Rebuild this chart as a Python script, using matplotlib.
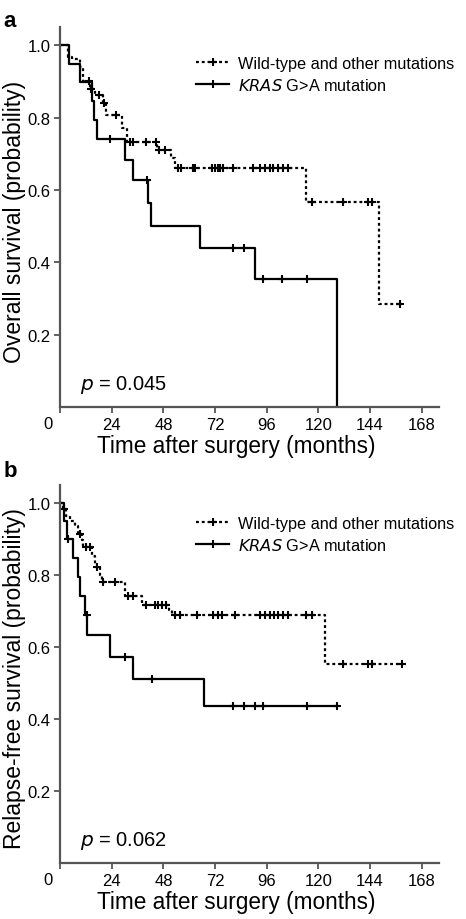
import numpy as np
import matplotlib
matplotlib.use("Agg")
import matplotlib.pyplot as plt
from matplotlib.lines import Line2D

plt.rcParams['font.family'] = ['Liberation Sans', 'DejaVu Sans']

# ---------------------------------------------------------------------------
# Data (months, survival probability)
# panel a: overall survival
os_wt_t = [0, 3.9, 5.7, 9.3, 10.8, 13.9, 16.3, 20.1, 21.2, 28.6, 31.0, 45.2, 51.6, 53.4, 114.3, 148.2]
os_wt_s = [1.0, 0.968, 0.963, 0.940, 0.900, 0.880, 0.862, 0.841, 0.806, 0.770, 0.731, 0.710, 0.687, 0.661, 0.567, 0.284]
os_wt_cens = [13.5, 14.2, 18.3, 20.6, 26.0, 32.5, 34.1, 39.9, 44.6, 46.1, 48.8, 54.9, 56.4,
              61.8, 62.6, 70.5, 72.0, 73.5, 74.3, 75.9, 80.5, 89.8, 92.9, 95.2, 97.5, 99.1,
              101.4, 103.7, 106.0, 117.2, 131.3, 143.2, 144.8, 157.9]

os_kras_t = [0, 4.3, 9.3, 14.7, 15.9, 17.3, 30.2, 33.8, 41.0, 42.3, 65.0, 90.6, 128.8]
os_kras_s = [1.0, 0.949, 0.899, 0.845, 0.793, 0.740, 0.684, 0.627, 0.565, 0.501, 0.440, 0.353, 0.0]
os_kras_cens = [23.2, 40.6, 80.2, 85.6, 94.1, 103.3, 114.9]

# panel b: relapse-free survival
rfs_wt_t = [0, 1.3, 2.8, 4.6, 7.0, 8.5, 10.1, 10.8, 14.7, 16.3, 18.6, 19.4, 30.2, 37.9, 50.8, 51.9, 123.1]
rfs_wt_s = [1.0, 0.984, 0.963, 0.949, 0.935, 0.915, 0.898, 0.878, 0.852, 0.821, 0.801, 0.780, 0.741, 0.716, 0.702, 0.688, 0.552]
rfs_wt_cens = [2.0, 9.3, 11.9, 13.9, 17.0, 20.1, 25.5, 31.7, 34.1, 39.9, 44.1, 45.7, 47.2, 49.2,
               53.4, 55.7, 63.8, 71.2, 73.5, 75.1, 81.3, 92.9, 95.2, 97.5, 99.4, 101.4, 103.7,
               106.0, 114.3, 116.9, 131.3, 143.2, 144.8, 158.7]

rfs_kras_t = [0, 1.9, 3.1, 5.9, 8.5, 9.3, 11.6, 12.7, 23.2, 33.8, 66.9]
rfs_kras_s = [1.0, 0.949, 0.900, 0.848, 0.795, 0.741, 0.688, 0.632, 0.573, 0.510, 0.436]
rfs_kras_cens = [3.9, 12.4, 30.2, 42.6, 80.2, 85.6, 90.6, 94.1, 114.9, 128.8]

x_ticks = [0, 24, 48, 72, 96, 120, 144, 168]
y_ticks = [0.2, 0.4, 0.6, 0.8, 1.0]
legend_labels = ['Wild-type and other mutations', r'$\it{KRAS}$ G>A mutation']

panels = [
    dict(tag='a', ylabel='Overall survival (probability)', p='0.045', bottom=0.5565, height=0.4130,
         leg_y=0.925, tag_y=0.988,
         wt=(os_wt_t, os_wt_s, os_wt_cens), kras=(os_kras_t, os_kras_s, os_kras_cens)),
    dict(tag='b', ylabel='Relapse-free survival (probability)', p='0.062', bottom=0.0609, height=0.4109,
         leg_y=0.919, tag_y=0.499,
         wt=(rfs_wt_t, rfs_wt_s, rfs_wt_cens), kras=(rfs_kras_t, rfs_kras_s, rfs_kras_cens)),
]

spine_col = '#555555'
dotted = (0, (1.3, 1.3))


def km(ax, t, s, cens, ls):
    t = np.array(t)
    s = np.array(s)
    end = max(t[-1], max(cens))
    tt = np.append(t, end)
    ss = np.append(s, s[-1])
    ax.step(tt, ss, where='post', color='black', lw=1.6, ls=ls)
    idx = np.searchsorted(t, cens, side='right') - 1
    ax.plot(cens, s[idx], ls='none', marker='+', ms=6, mew=1.5, color='black')


fig = plt.figure(figsize=(4.66, 9.2), dpi=100)

for pn in panels:
    ax = fig.add_axes([0.1288, pn['bottom'], 0.8133, pn['height']])
    km(ax, *pn['wt'], ls=dotted)
    km(ax, *pn['kras'], ls='-')

    ax.set_xlim(0, 176)
    ax.set_ylim(0, 1.05)
    ax.set_xticks(x_ticks)
    ax.set_xticklabels([''] + [str(v) for v in x_ticks[1:]])
    ax.set_yticks(y_ticks)
    ax.set_yticklabels(['%.1f' % v for v in y_ticks])
    ax.annotate('0', xy=(0, 0), xycoords='data', xytext=(-9, -6.5), textcoords='offset points',
                ha='center', va='top', fontsize=12)
    ax.tick_params(direction='out', length=4.5, width=1.3, color=spine_col, labelsize=12, pad=2.5)
    for side in ['top', 'right']:
        ax.spines[side].set_visible(False)
    for side in ['left', 'bottom']:
        ax.spines[side].set_color(spine_col)
        ax.spines[side].set_linewidth(1.6)

    ax.set_xlabel('Time after surgery (months)', fontsize=16.3)
    ax.xaxis.set_label_coords(0.464, -0.071)
    ax.set_ylabel(pn['ylabel'], fontsize=16.5)
    ax.yaxis.set_label_coords(-0.09, 0.49)

    ax.text(0.053, 0.047, r'$\it{p}$ = ' + pn['p'], transform=ax.transAxes, fontsize=14.5,
            va='baseline', ha='left')

    handles = [Line2D([], [], color='black', lw=1.6, ls=dotted, marker='+', ms=6, mew=1.5),
               Line2D([], [], color='black', lw=1.6, ls='-', marker='+', ms=6, mew=1.5)]
    ax.legend(handles, legend_labels, loc='upper left', bbox_to_anchor=(0.36, pn['leg_y']), frameon=False,
              fontsize=11.7, handlelength=2.0, handletextpad=0.55, borderpad=0, borderaxespad=0,
              labelspacing=0.4, numpoints=1)

    fig.text(0.008, pn['tag_y'], pn['tag'], fontsize=16, fontweight='bold', va='top', ha='left')

fig.savefig('out.png', dpi=100)
